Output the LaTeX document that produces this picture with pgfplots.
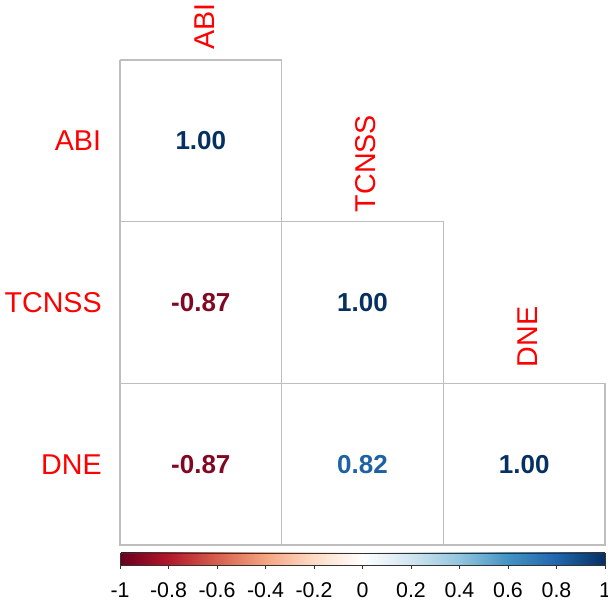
\documentclass[border=0pt]{standalone}
\usepackage{fontspec}
\setmainfont{Liberation Sans}
\usepackage{pgfplots}
\pgfplotsset{compat=1.18}
\definecolor{gridcol}{RGB}{190,190,190}
\definecolor{labred}{RGB}{255,0,0}
\definecolor{cnavy}{RGB}{5,48,97}
\definecolor{cdred}{RGB}{129,8,35}
\definecolor{cblue}{RGB}{30,97,164}
\begin{document}
\begin{tikzpicture}
\path[use as bounding box] (0,0) rectangle (456pt,451.5pt);
\begin{axis}[
  at={(90pt,42.75pt)}, anchor=south west,
  scale only axis, width=363.75pt, height=363.75pt,
  xmin=0.5, xmax=3.5, ymin=0.5, ymax=3.5, y dir=reverse,
  axis line style={draw=none}, xtick=\empty, ytick=\empty,
  clip=false,
  colormap={RdBu}{rgb255=(103,0,31) rgb255=(178,24,43) rgb255=(214,96,77) rgb255=(244,165,130) rgb255=(253,219,199) rgb255=(255,255,255) rgb255=(209,229,240) rgb255=(146,197,222) rgb255=(67,147,195) rgb255=(33,102,172) rgb255=(5,48,97)},
  point meta min=-1, point meta max=1,
  colorbar horizontal,
  colorbar style={
    at={(0,-0.0165)}, anchor=north west,
    scale only axis, width=363.75pt, height=9pt,
    xtick={-1,-0.8,-0.6,-0.4,-0.2,0,0.2,0.4,0.6,0.8,1},
    xticklabels={-1,-0.8,-0.6,-0.4,-0.2,0,0.2,0.4,0.6,0.8,1},
    xtick pos=left, xtick align=outside, major tick length=3pt,
    tick style={black!80, line width=0.6pt},
    axis line style={draw=black!80, line width=0.6pt},
    xticklabel style={font=\fontsize{16}{16}\selectfont, text=black, yshift=-6.5pt},
  },
  valstyle/.style={only marks, mark=none, point meta=explicit symbolic, nodes near coords,
    every node near coord/.append style={anchor=center, font=\fontsize{19.5}{19.5}\selectfont\bfseries, text=#1}},
]
% grid of the lower triangle
\addplot[gridcol, line width=0.9pt, mark=none] coordinates {(0.5,0.5) (1.5,0.5) (1.5,1.5) (2.5,1.5) (2.5,2.5) (3.5,2.5) (3.5,3.5) (0.5,3.5) (0.5,0.5)};
\addplot[gridcol, line width=0.9pt, mark=none] coordinates {(0.5,1.5) (1.5,1.5)};
\addplot[gridcol, line width=0.9pt, mark=none] coordinates {(0.5,2.5) (2.5,2.5)};
\addplot[gridcol, line width=0.9pt, mark=none] coordinates {(1.5,1.5) (1.5,3.5)};
\addplot[gridcol, line width=0.9pt, mark=none] coordinates {(2.5,2.5) (2.5,3.5)};
% correlation values
\addplot[valstyle=cnavy] table[meta=v] {
x y v
1 1 1.00
2 2 1.00
3 3 1.00
};
\addplot[valstyle=cdred] table[meta=v] {
x y v
1 2 -0.87
1 3 -0.87
};
\addplot[valstyle=cblue] table[meta=v] {
x y v
2 3 0.82
};
% labels
\node[anchor=east, inner sep=0pt, text=labred, font=\fontsize{21.5}{21.5}\selectfont] at (axis cs:0.5,1) [xshift=-14pt] {ABI};
\node[anchor=east, inner sep=0pt, text=labred, font=\fontsize{21.5}{21.5}\selectfont] at (axis cs:0.5,2) [xshift=-13.5pt] {TCNSS};
\node[anchor=east, inner sep=0pt, text=labred, font=\fontsize{21.5}{21.5}\selectfont] at (axis cs:0.5,3) [xshift=-13.5pt] {DNE};
\node[anchor=west, rotate=90, inner sep=0pt, text=labred, font=\fontsize{21.5}{21.5}\selectfont] at (axis cs:1,0.5) [xshift=7.75pt, yshift=-2.5pt] {ABI};
\node[anchor=west, rotate=90, inner sep=0pt, text=labred, font=\fontsize{21.5}{21.5}\selectfont] at (axis cs:2,1.5) [xshift=7pt, yshift=-2.5pt] {TCNSS};
\node[anchor=west, rotate=90, inner sep=0pt, text=labred, font=\fontsize{21.5}{21.5}\selectfont] at (axis cs:3,2.5) [xshift=12pt, yshift=-2.5pt] {DNE};
\end{axis}
\end{tikzpicture}
\end{document}
